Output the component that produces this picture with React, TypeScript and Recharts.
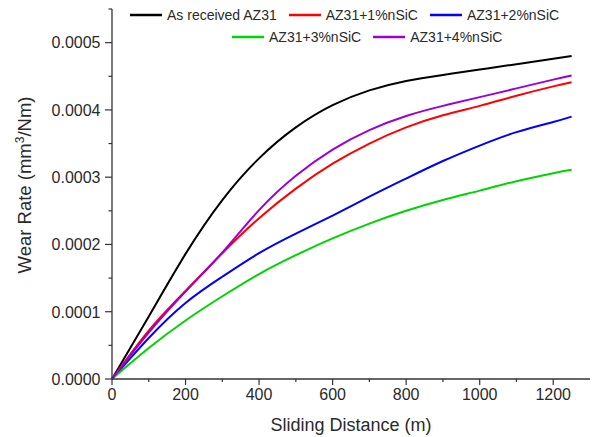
import { LineChart, Line, XAxis, YAxis, Legend, Label } from "recharts"

// sliding distance (m)
const distance = [0, 100, 200, 300, 400, 500, 600, 700, 800, 900, 1000, 1100, 1200, 1250]

// wear rate (mm3/Nm)
const asReceived = [0, 0.000093, 0.000186, 0.000266, 0.000328, 0.000374, 0.000407, 0.000429, 0.000443, 0.000452, 0.000460, 0.000468, 0.000476, 0.000480]
const nSiC1 = [0, 0.000072, 0.000131, 0.000187, 0.000239, 0.000283, 0.000320, 0.000350, 0.000374, 0.000392, 0.000406, 0.000421, 0.000435, 0.000441]
const nSiC2 = [0, 0.000061, 0.000113, 0.000152, 0.000187, 0.000216, 0.000243, 0.000271, 0.000298, 0.000324, 0.000347, 0.000367, 0.000382, 0.000390]
const nSiC3 = [0, 0.000046, 0.000087, 0.000123, 0.000156, 0.000184, 0.000209, 0.000231, 0.000250, 0.000266, 0.000280, 0.000294, 0.000306, 0.000311]
const nSiC4 = [0, 0.000069, 0.000130, 0.000188, 0.000251, 0.000302, 0.000341, 0.000370, 0.000391, 0.000406, 0.000419, 0.000432, 0.000445, 0.000451]

const xTicks = [0, 100, 200, 300, 400, 500, 600, 700, 800, 900, 1000, 1100, 1200]
const yTicks = [0, 0.00005, 0.0001, 0.00015, 0.0002, 0.00025, 0.0003, 0.00035, 0.0004, 0.00045, 0.0005, 0.00055]

const series = [
  { key: "asReceived", name: "As received AZ31", color: "#000000" },
  { key: "nSiC1", name: "AZ31+1%nSiC", color: "#ff0000" },
  { key: "nSiC2", name: "AZ31+2%nSiC", color: "#0000ff" },
  { key: "nSiC3", name: "AZ31+3%nSiC", color: "#00d400" },
  { key: "nSiC4", name: "AZ31+4%nSiC", color: "#9c00d4" },
]

const data = distance.map((d, i) => ({
  distance: d,
  asReceived: asReceived[i],
  nSiC1: nSiC1[i],
  nSiC2: nSiC2[i],
  nSiC3: nSiC3[i],
  nSiC4: nSiC4[i],
}))

const FONT = "'Liberation Sans', Arial, sans-serif"
const AXIS = "#333333"
const TEXT = "#2a2a2a"

const XTick = (props: any) => {
  const { x, y, payload } = props
  const major = payload.value % 200 === 0
  return (
    <g>
      <line x1={x} x2={x} y1={y} y2={y + (major ? 6 : 3)} stroke={AXIS} strokeWidth={1.2} />
      {major && (
        <text x={x} y={y + 21} textAnchor="middle" fontSize={16} fontFamily={FONT} fill={TEXT}>
          {payload.value}
        </text>
      )}
    </g>
  )
}

const YTick = (props: any) => {
  const { x, y, payload } = props
  const major = Math.round(payload.value * 1e5) % 2 === 0
  return (
    <g>
      <line x1={x} x2={x - (major ? 7 : 3.5)} y1={y} y2={y} stroke={AXIS} strokeWidth={1.2} />
      {major && (
        <text x={x - 11.5} y={y + 5.8} textAnchor="end" fontSize={16} fontFamily={FONT} fill={TEXT}>
          {payload.value.toFixed(4)}
        </text>
      )}
    </g>
  )
}

const rows = [[0, 1, 2], [3, 4]]
const rowLeft = [130, 232]

const LegendBox = (props: any) => {
  const payload = props.payload || []
  const byName: Record<string, any> = {}
  payload.forEach((p: any) => { byName[p.value] = p })
  return (
    <div style={{ position: "relative", width: 592, height: 50, fontFamily: FONT, fontSize: 14, color: TEXT }}>
      {rows.map((row, r) => (
        <div key={r} style={{ position: "absolute", left: rowLeft[r], top: 6 + r * 22, display: "flex", alignItems: "center", gap: 12, whiteSpace: "nowrap" }}>
          {row.map((i) => {
            const s = series[i]
            const p = byName[s.name]
            return (
              <div key={s.key} style={{ display: "flex", alignItems: "center" }}>
                <svg width={32} height={4} style={{ marginRight: 5 }}>
                  <line x1={0} x2={32} y1={2} y2={2} stroke={p ? p.color : s.color} strokeWidth={2.5} />
                </svg>
                <span style={{ lineHeight: "18px" }}>{s.name}</span>
              </div>
            )
          })}
        </div>
      ))}
    </div>
  )
}

export default function App() {
  return (
    <div style={{ position: "absolute", left: 0, top: 0, width: 592, height: 437, background: "#fff" }}>
      <LineChart width={592} height={437} data={data} margin={{ top: 9, right: 2, left: 0, bottom: 0 }}>
        <XAxis
          type="number"
          dataKey="distance"
          domain={[0, 1300]}
          ticks={xTicks}
          interval={0}
          height={58}
          tickSize={0}
          tickMargin={0}
          tickLine={false}
          tick={<XTick />}
          axisLine={{ stroke: AXIS, strokeWidth: 1.3 }}
        >
          <Label
            content={(p: any) => {
              const vb = p.viewBox
              return (
                <text x={vb.x + vb.width / 2} y={vb.y + 52} textAnchor="middle" fontSize={18} fontFamily={FONT} fill={TEXT}>
                  Sliding Distance (m)
                </text>
              )
            }}
          />
        </XAxis>
        <YAxis
          type="number"
          domain={[0, 0.00055]}
          ticks={yTicks}
          interval={0}
          width={112}
          tickSize={0}
          tickMargin={0}
          tickLine={false}
          tick={<YTick />}
          axisLine={{ stroke: AXIS, strokeWidth: 1.3 }}
        >
          <Label
            content={() => (
              <text
                x={31}
                y={185}
                transform="rotate(-90 31 185)"
                textAnchor="middle"
                fontSize={18.5}
                fontFamily={FONT}
                fill={TEXT}
              >
                Wear Rate (mm
                <tspan dy={-7} fontSize={12}>3</tspan>
                <tspan dy={7}>/Nm)</tspan>
              </text>
            )}
          />
        </YAxis>
        <Legend
          layout="horizontal"
          verticalAlign="middle"
          align="center"
          content={<LegendBox />}
          wrapperStyle={{ position: "absolute", top: 0, left: 0, width: 592, height: 50 }}
        />
        {series.map((s) => (
          <Line
            key={s.key}
            type="natural"
            dataKey={s.key}
            name={s.name}
            stroke={s.color}
            strokeWidth={2}
            dot={false}
            isAnimationActive={false}
          />
        ))}
      </LineChart>
    </div>
  )
}
